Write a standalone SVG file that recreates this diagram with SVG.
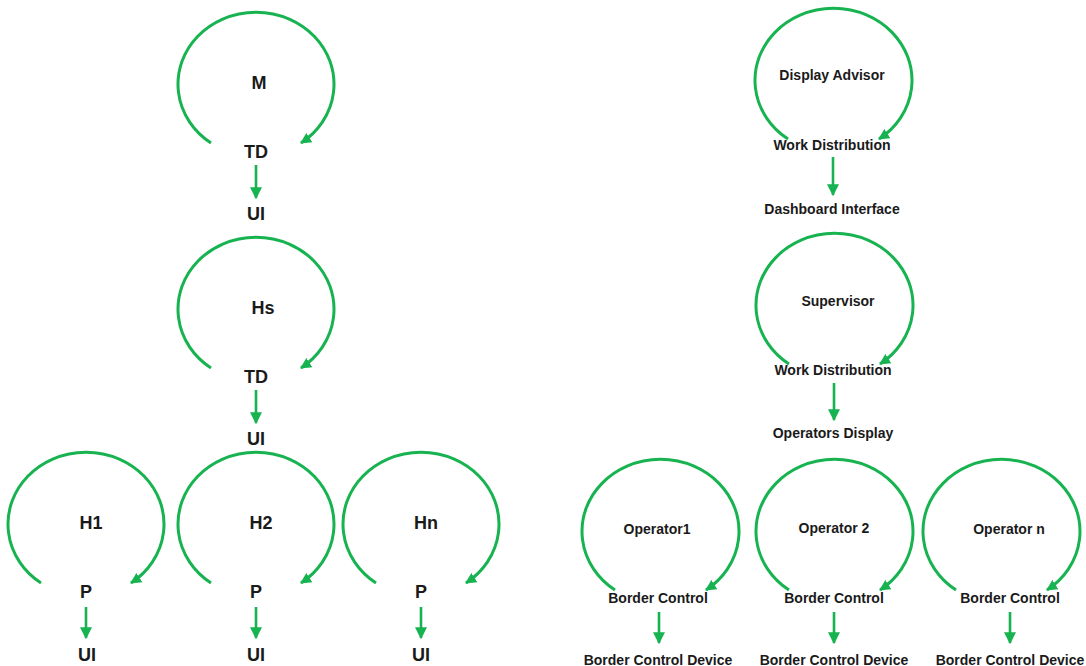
<svg xmlns="http://www.w3.org/2000/svg" width="1086" height="666" viewBox="0 0 1086 666">
<style>
.loop{fill:none;stroke:#17b350;stroke-width:3;marker-end:url(#ah)}
.ln{fill:none;stroke:#17b350;stroke-width:2.6;marker-end:url(#ah2)}
.tl{font-family:"Liberation Sans",Arial,sans-serif;font-weight:bold;font-size:18px;fill:#1a1a1a;text-anchor:middle}
.tr{font-family:"Liberation Sans",Arial,sans-serif;font-weight:bold;font-size:14px;fill:#1a1a1a;text-anchor:middle}
</style>
<defs>
<marker id="ah" markerUnits="userSpaceOnUse" markerWidth="12" markerHeight="12" refX="10" refY="5.5" orient="auto" viewBox="0 0 12 11"><path d="M0,0 L11,5.5 L0,11 z" fill="#17b350"/></marker>
<marker id="ah2" markerUnits="userSpaceOnUse" markerWidth="12" markerHeight="12" refX="9" refY="5" orient="auto" viewBox="0 0 10 10"><path d="M0,0 L10,5 L0,10 z" fill="#17b350"/></marker>
</defs>
<g id="node-M"><path class="loop" d="M211,143 A78,72 0 1 1 301,143"/><text class="tl" x="259" y="89">M</text><text class="tl" x="256" y="158">TD</text><text class="tl" x="256" y="220">UI</text></g>
<g id="node-Hs"><path class="loop" d="M211,368 A78,72 0 1 1 301,368"/><text class="tl" x="263" y="314">Hs</text><text class="tl" x="256" y="383">TD</text><text class="tl" x="256" y="445">UI</text></g>
<g id="node-H1"><path class="loop" d="M41,583 A78,72 0 1 1 131,583"/><text class="tl" x="91" y="529">H1</text><text class="tl" x="86" y="598">P</text><text class="tl" x="87" y="661">UI</text></g>
<g id="node-H2"><path class="loop" d="M211,583 A78,72 0 1 1 301,583"/><text class="tl" x="261" y="529">H2</text><text class="tl" x="256" y="598">P</text><text class="tl" x="256" y="661">UI</text></g>
<g id="node-Hn"><path class="loop" d="M376,583 A78,72 0 1 1 466,583"/><text class="tl" x="426" y="529">Hn</text><text class="tl" x="421" y="598">P</text><text class="tl" x="421" y="661">UI</text></g>
<g id="node-DisplayAdvisor"><path class="loop" d="M788,139 A78.5,72 0 1 1 879,139"/><text class="tr" x="832" y="80">Display Advisor</text><text class="tr" x="832" y="150">Work Distribution</text><text class="tr" x="832" y="214">Dashboard Interface</text></g>
<g id="node-Supervisor"><path class="loop" d="M789,364 A78.5,72 0 1 1 880,364"/><text class="tr" x="838" y="306">Supervisor</text><text class="tr" x="833" y="375">Work Distribution</text><text class="tr" x="833" y="438">Operators Display</text></g>
<g id="node-Operator1"><path class="loop" d="M615,590 A78.5,72 0 1 1 706,590"/><text class="tr" x="657" y="534">Operator1</text><text class="tr" x="658" y="603">Border Control</text><text class="tr" x="658" y="665">Border Control Device</text></g>
<g id="node-Operator2"><path class="loop" d="M789,590 A78.5,72 0 1 1 880,590"/><text class="tr" x="834" y="533">Operator 2</text><text class="tr" x="834" y="603">Border Control</text><text class="tr" x="834" y="665">Border Control Device</text></g>
<g id="node-OperatorN"><path class="loop" d="M956,590 A78.5,72 0 1 1 1047,590"/><text class="tr" x="1009" y="534">Operator n</text><text class="tr" x="1010" y="603">Border Control</text><text class="tr" x="1010" y="665">Border Control Device</text></g>
<g id="connectors">
<path class="ln" d="M256,165 V198"/>
<path class="ln" d="M256,390 V423"/>
<path class="ln" d="M86,607 V638"/>
<path class="ln" d="M256,607 V638"/>
<path class="ln" d="M421,607 V638"/>
<path class="ln" d="M833,157 V195"/>
<path class="ln" d="M834,383 V420"/>
<path class="ln" d="M659,612 V643"/>
<path class="ln" d="M834,612 V643"/>
<path class="ln" d="M1010,612 V643"/>
</g>
</svg>
